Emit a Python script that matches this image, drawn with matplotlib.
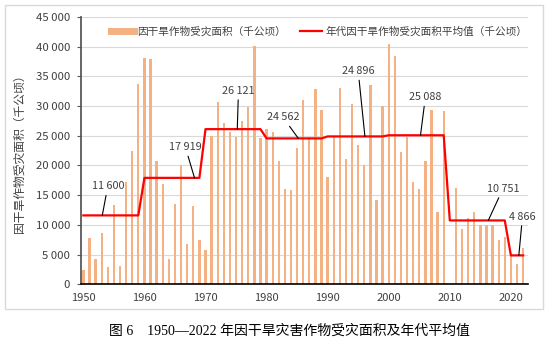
import numpy as np
import matplotlib
matplotlib.use("Agg")
import matplotlib.pyplot as plt
from matplotlib.lines import Line2D
from matplotlib.patches import Rectangle
from matplotlib.ticker import FuncFormatter, MultipleLocator

plt.rcParams['font.family'] = ['Noto Sans CJK SC', 'DejaVu Sans']

# yearly drought-affected crop area (thousand ha)
years = list(range(1950, 2023))
area = [2400, 7800, 4200, 8600, 2900, 13400, 3100, 17200, 22400, 33800,
        38100, 37900, 20800, 16900, 4200, 13600, 20000, 6700, 13200, 7500,
        5700, 25000, 30700, 27200, 25600, 24800, 27500, 29800, 40200, 24700,
        26100, 25600, 20700, 16100, 15800, 22900, 31000, 24800, 32900, 29300,
        18100, 24800, 33000, 21100, 30300, 23400, 20100, 33500, 14200, 30100,
        40500, 38500, 22200, 24800, 17200, 16000, 20700, 29400, 12100, 29200,
        np.nan, 16200, 9300, 11200, 12200, 10000, 9900, 9900, 7500, 7900,
        5100, 3400, 6100]

# decade averages
decades = [1950, 1960, 1970, 1980, 1990, 2000, 2010, 2020]
decade_avg = [11600, 17919, 26121, 24562, 24896, 25088, 10751, 4866]
avg_line = [decade_avg[decades.index(y // 10 * 10)] for y in years]

# label positions (text x, text y, point x)
label_pos = [(1954.0, 16500, 1953.1), (1966.7, 23100, 1968.2),
             (1975.4, 32600, 1975.2), (1982.7, 28100, 1985.2),
             (1995.0, 35900, 1996.1), (2006.0, 31500, 2005.2),
             (2018.7, 16100, 2016.3), (2021.9, 11400, 2021.3)]

bar_color = '#F4B183'
red = '#FF0000'

fig = plt.figure(figsize=(5.54, 3.47), dpi=100)
ax = fig.add_axes([0.1468, 0.1807, 0.8057, 0.7703])

ax.bar(years, area, width=0.38, color=bar_color, zorder=2)
ax.plot(years, avg_line, color=red, lw=1.6, zorder=3)

def fmt(v):
    return f"{int(v):,}".replace(",", " ")

for (tx, ty, px), v in zip(label_pos, decade_avg):
    ax.annotate(fmt(v), xy=(px, v), xytext=(tx, ty), ha='center', va='center',
                fontsize=7.8, color='#404040', annotation_clip=False,
                arrowprops=dict(arrowstyle='-', color='black', lw=0.8,
                                shrinkA=1, shrinkB=0), zorder=4)

ax.set_xlim(1949.67, 2022.75)
ax.set_ylim(0, 45000)
ax.yaxis.set_major_locator(MultipleLocator(5000))
ax.yaxis.set_major_formatter(FuncFormatter(lambda v, p: fmt(v)))
ax.set_xticks(range(1950, 2021, 10))
ax.tick_params(axis='x', length=0, pad=6, labelsize=8, labelcolor='#404040')
ax.tick_params(axis='y', length=3, width=0.8, color='#595959', labelsize=8.2,
               labelcolor='#404040', pad=5)
ax.grid(axis='y', color='#d9d9d9', lw=0.8, zorder=0)
ax.set_axisbelow(True)
for s in ['top', 'right']:
    ax.spines[s].set_visible(False)
ax.spines['left'].set_color('#595959')
ax.spines['left'].set_linewidth(1.3)
ax.spines['bottom'].set_color('black')
ax.spines['bottom'].set_linewidth(1.2)

ax.set_ylabel('因干旱作物受灾面积（千公顷）', fontsize=8.5, color='#404040', labelpad=7)

handles = [Line2D([], [], color=bar_color, lw=5),
           Line2D([], [], color=red, lw=1.6)]
labels = ['因干旱作物受灾面积（千公顷）', '年代因干旱作物受灾面积平均值（千公顷）']
ax.legend(handles, labels, loc='upper center', bbox_to_anchor=(0.533, 1.0),
          ncol=2, frameon=False, fontsize=7.65, handlelength=2.15,
          columnspacing=1.3, handletextpad=0.3, labelcolor='#404040')

fig.patches.append(Rectangle((5 / 554, 1 - 309 / 347), 538 / 554, 304 / 347,
                             transform=fig.transFigure, fill=False,
                             edgecolor='#d9d9d9', lw=1.0))

fig.text(0.523, 1 - 331 / 347, '图 6　1950—2022 年因干旱灾害作物受灾面积及年代平均值',
         ha='center', va='center', fontsize=10, color='black',
         family=['Liberation Serif', 'Noto Sans CJK SC'])

fig.savefig('out.png', dpi=100)
